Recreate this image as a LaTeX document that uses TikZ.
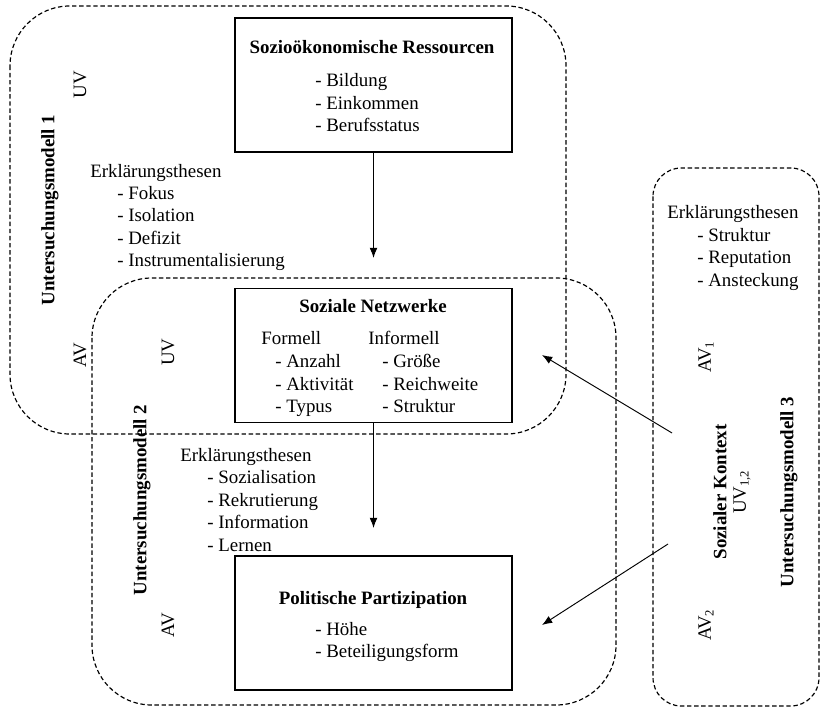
\documentclass[tikz,border=0pt]{standalone}
\usepackage{fontspec}
\setmainfont{Liberation Serif}
\usetikzlibrary{arrows.meta}
\tikzset{
  model/.style={dash pattern=on 2.8pt off 1.7pt, line width=0.75pt, rounded corners=38pt},
  box/.style={draw, line width=0.9pt, minimum width=175.9pt, minimum height=85pt, inner sep=0pt},
  txt/.style={anchor=base west, inner sep=0pt, font=\fontsize{12}{14}\selectfont},
  titel/.style={anchor=base, inner sep=0pt, font=\fontsize{12}{14}\selectfont\bfseries},
  vtxt/.style={rotate=90, inner sep=0pt, font=\fontsize{12}{14}\selectfont},
  vtitel/.style={vtxt, font=\fontsize{12}{14}\selectfont\bfseries},
  pfeil/.style={->, line width=0.6pt},
}
\begin{document}
\begin{tikzpicture}[x=0.635pt, y=-0.635pt, >={Latex[length=6.5pt,width=5pt]}]
\useasboundingbox (0,0) rectangle (821,707);
% Untersuchungsmodelle
\draw[model] (10,6) rectangle (566,434);
\draw[model] (92,278) rectangle (616,705);
\draw[model, rounded corners=18pt] (653,168) rectangle (819,706);

% Kaesten
\node[box] (sozio) at (373.5,85) {};
\node[box] (netz) at (373.5,355.5) {};
\node[box] (partizip) at (373.5,623) {};

\node[titel] (sozio-t) at (372,54) {Sozioökonomische Ressourcen};
\foreach \t [count=\i] in {Bildung,Einkommen,Berufsstatus}
  \node[txt] (sozio-\i) at (315,64.5+22.5*\i) {- \t};

\node[titel] (netz-t) at (373,313) {Soziale Netzwerke};
\node[txt] (formell) at (261,345) {Formell};
\node[txt] (informell) at (368,345) {Informell};
\foreach \a/\b [count=\i] in {Anzahl/Größe,Aktivität/Reichweite,Typus/Struktur}
{
  \node[txt] (formell-\i) at (275,345+22.5*\i) {- \a};
  \node[txt] (informell-\i) at (382,345+22.5*\i) {- \b};
}

\node[titel] (partizip-t) at (373,604) {Politische Partizipation};
\foreach \t [count=\i] in {Höhe,Beteiligungsform}
  \node[txt] (partizip-\i) at (315,612.5+22.5*\i) {- \t};

% Erklaerungsthesen
\node[txt] (these1) at (90,178) {Erklärungsthesen};
\foreach \t [count=\i] in {Fokus,Isolation,Defizit,Instrumentalisierung}
  \node[txt] (these1-\i) at (117,177+22.4*\i) {- \t};
\node[txt] (these2) at (180,461) {Erklärungsthesen};
\foreach \t [count=\i] in {Sozialisation,Rekrutierung,Information,Lernen}
  \node[txt] (these2-\i) at (207,461+22.5*\i) {- \t};
\node[txt] (these3) at (667,219) {Erklärungsthesen};
\foreach \t [count=\i] in {Struktur,Reputation,Ansteckung}
  \node[txt] (these3-\i) at (697,219+22.5*\i) {- \t};

% senkrechte Beschriftungen
\node[vtitel] (modell1) at (50,210) {Untersuchungsmodell 1};
\node[vtxt] (uv1) at (80,85) {UV};
\node[vtxt] (av1) at (80,355) {AV};
\node[vtitel] (modell2) at (142,500) {Untersuchungsmodell 2};
\node[vtxt] (uv2) at (168,352) {UV};
\node[vtxt] (av2) at (168,625) {AV};
\node[vtxt] (av31) at (706,357) {AV\textsubscript{1}};
\node[vtxt] (av32) at (706,625) {AV\textsubscript{2}};
\node[vtitel] (kontext) at (720,492) {Sozialer Kontext};
\node[vtxt] (uv3) at (742,492) {UV\textsubscript{1,2}};
\node[vtitel] (modell3) at (789,492) {Untersuchungsmodell 3};

% Pfeile
\coordinate (sozio-e) at (sozio.south |- 0,258);
\coordinate (netz-e) at (netz.south |- 0,528);
\coordinate (kontext-o) at (672,433);
\coordinate (kontext-u) at (668,544);
\coordinate (netz-k) at (542,355);
\coordinate (partizip-k) at (542,625);
\draw[pfeil] (sozio.south) -- (sozio-e);
\draw[pfeil] (netz.south) -- (netz-e);
\draw[pfeil] (kontext-o) -- (netz-k);
\draw[pfeil] (kontext-u) -- (partizip-k);
\end{tikzpicture}
\end{document}
